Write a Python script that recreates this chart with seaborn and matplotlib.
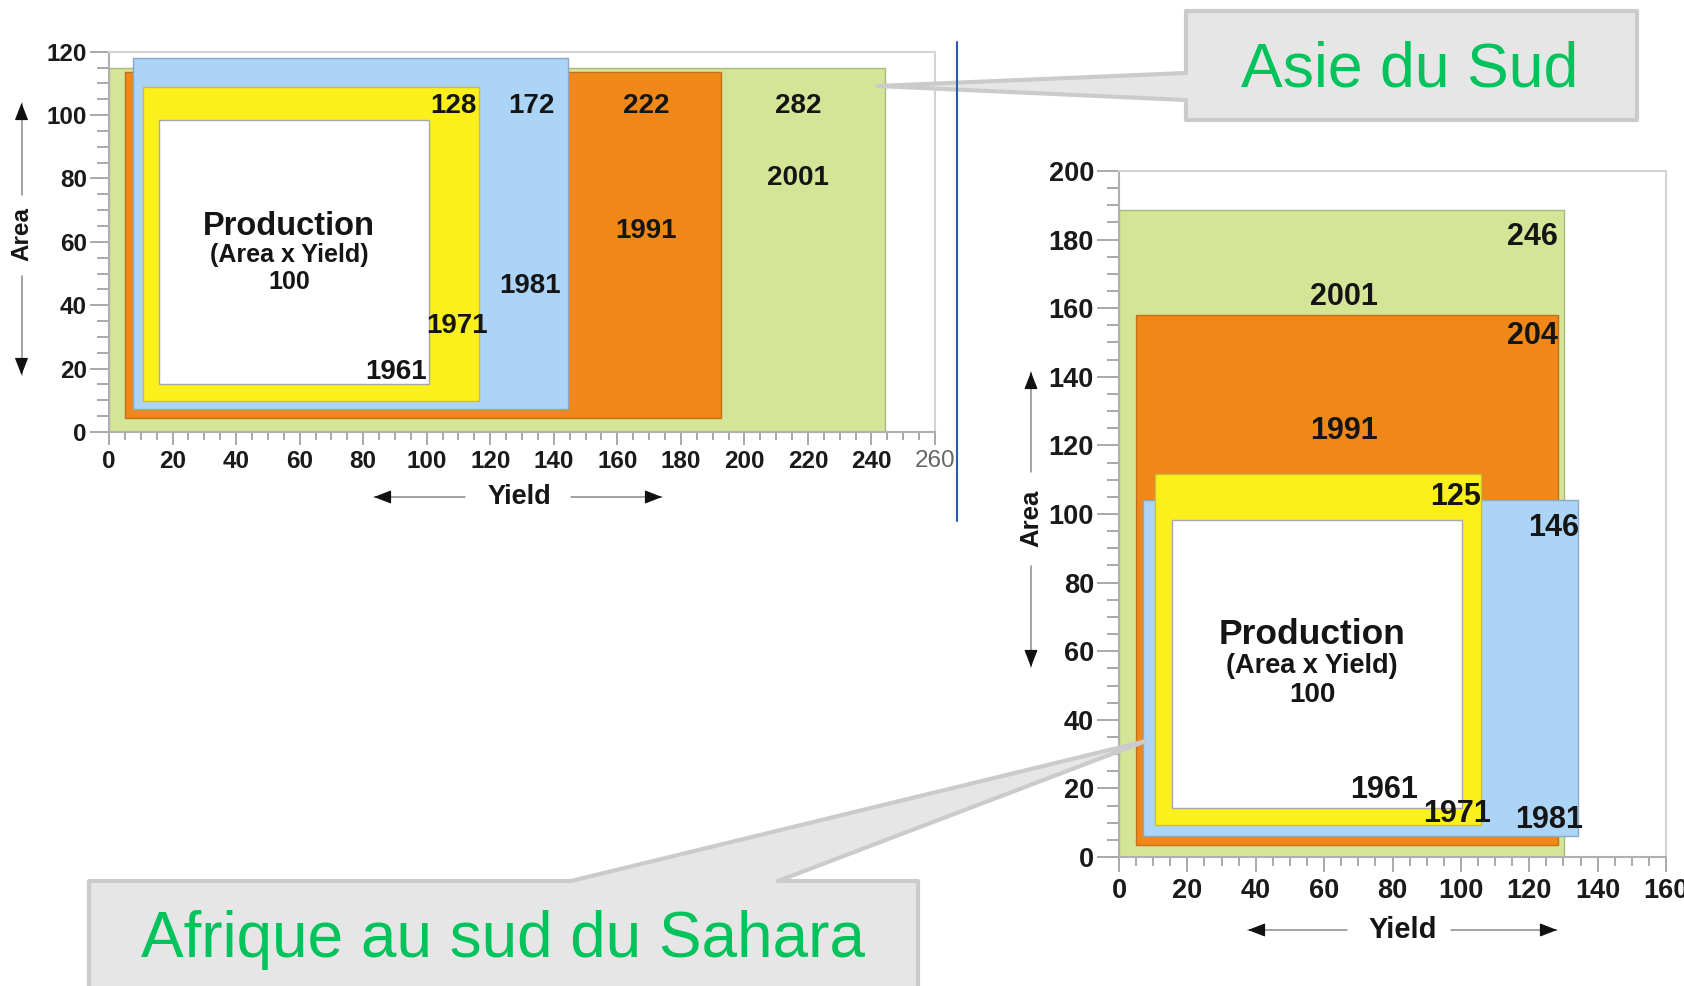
import matplotlib
matplotlib.use('Agg')
import matplotlib.pyplot as plt
import seaborn as sns
from matplotlib.patches import Polygon
from matplotlib.ticker import MultipleLocator

# Year rectangles, innermost (1961) to outermost (2001)
years = ['1961', '1971', '1981', '1991', '2001']
fill_colors = ['#ffffff', '#fbf01c', '#acd4f6', '#ef8818', '#d5e597']
edge_colors = ['#a8a8a8', '#c8bf3c', '#8aa8c8', '#c2701c', '#aab880']

# South Asia: yield (x) and area (y) extents of each rectangle
asia_yield_lo = [15.7, 10.7, 7.5, 5.0, 0.0]
asia_yield_hi = [100.6, 116.5, 144.5, 192.6, 244.2]
asia_area_lo = [15.0, 9.7, 7.1, 4.5, 0.0]
asia_area_hi = [98.3, 108.8, 117.9, 113.7, 115.0]
asia_index = ['100', '128', '172', '222', '282']

# Sub-Saharan Africa
africa_yield_lo = [15.6, 10.4, 7.1, 5.1, 0.0]
africa_yield_hi = [100.3, 106.0, 134.3, 128.3, 130.2]
africa_area_lo = [14.3, 9.2, 6.1, 3.6, 0.0]
africa_area_hi = [98.3, 111.7, 104.2, 157.9, 188.5]
africa_index = ['100', '125', '146', '204', '246']

# label placement (data coords)
asia_year_pos = [(90.4, 18.9), (109.6, 33.5), (132.6, 46), (169, 63.4), (217, 80.2)]
asia_index_pos = [None, (108.4, 103), (133, 103), (169, 103), (217, 103)]
africa_year_pos = [(77.4, 19.4), (99, 12.6), (125.7, 10.7), (65.7, 124.3), (65.7, 163.2)]
africa_index_pos = [None, (98.4, 104.9), (127, 96), (120.9, 152), (120.9, 180.7)]

sns.set_theme(style='ticks')
plt.rcParams['font.family'] = ['Liberation Sans', 'DejaVu Sans']

W, H = 1684, 986
fig = plt.figure(figsize=(W / 100, H / 100), dpi=100)
ax1 = fig.add_axes([109 / W, 1 - 432 / H, 826 / W, 380.3 / H])
ax2 = fig.add_axes([1119 / W, 1 - 857 / H, 547 / W, 686 / H])


def draw_panel(ax, x_lo, x_hi, y_lo, y_hi, index, year_pos, index_pos, xmax, ymax,
               tick_fs, lab_fs, prod_fs, ylen, xlen):
    for i in reversed(range(len(years))):
        ax.bar(x_lo[i], y_hi[i] - y_lo[i], width=x_hi[i] - x_lo[i], bottom=y_lo[i],
               align='edge', color=fill_colors[i], edgecolor=edge_colors[i], linewidth=1)
    for i, (x, y) in enumerate(year_pos):
        ax.text(x, y, years[i], ha='center', va='center', fontsize=lab_fs,
                fontweight='bold', color='#151515')
    for i, p in enumerate(index_pos):
        if p is not None:
            ax.text(p[0], p[1], index[i], ha='center', va='center', fontsize=lab_fs,
                    fontweight='bold', color='#151515')
    cx = (x_lo[0] + x_hi[0]) / 2 - 1.5
    ax.text(cx, 65, 'Production', ha='center', va='center', fontsize=prod_fs[0],
            fontweight='bold', color='#151515')
    ax.text(cx, 55.8, '(Area x Yield)', ha='center', va='center', fontsize=prod_fs[1],
            fontweight='bold', color='#151515')
    ax.text(cx, 47.2, index[0], ha='center', va='center', fontsize=prod_fs[2],
            fontweight='bold', color='#151515')

    ax.set_xlim(0, xmax)
    ax.set_ylim(0, ymax)
    xt = list(range(0, xmax + 1, 20))
    yt = list(range(0, ymax + 1, 20))
    ax.set_xticks(xt, labels=[str(t) for t in xt], fontsize=tick_fs, fontweight='bold',
                  color='#1a1a1a')
    ax.set_yticks(yt, labels=[str(t) for t in yt], fontsize=tick_fs, fontweight='bold',
                  color='#1a1a1a')
    ax.xaxis.set_minor_locator(MultipleLocator(5))
    ax.yaxis.set_minor_locator(MultipleLocator(5))
    ax.tick_params(axis='y', which='major', direction='out', length=ylen[0], width=1.2,
                   color='#9a9a9a', pad=2)
    ax.tick_params(axis='y', which='minor', direction='out', length=ylen[1], width=1.2,
                   color='#9a9a9a')
    ax.tick_params(axis='x', which='major', direction='out', length=xlen[0], width=1.2,
                   color='#9a9a9a', pad=4)
    ax.tick_params(axis='x', which='minor', direction='out', length=xlen[1], width=1.2,
                   color='#9a9a9a')
    for side in ['left', 'bottom']:
        ax.spines[side].set_color('#b0b0b0')
        ax.spines[side].set_linewidth(1.5)
    for side in ['top', 'right']:
        ax.spines[side].set_color('#d4d4d4')
        ax.spines[side].set_linewidth(1.5)
    ax.set_facecolor('white')


draw_panel(ax1, asia_yield_lo, asia_yield_hi, asia_area_lo, asia_area_hi, asia_index,
           asia_year_pos, asia_index_pos, 260, 120, 17.5, 20, (23.5, 18, 18),
           (14, 9), (9, 6))
draw_panel(ax2, africa_yield_lo, africa_yield_hi, africa_area_lo, africa_area_hi,
           africa_index, africa_year_pos, africa_index_pos, 160, 200, 19.5, 22,
           (25.5, 19.5, 20), (16, 9), (11, 6.5))

last = ax1.get_xticklabels()[-1]
last.set_fontweight('normal')
last.set_color('#666666')

# overlay in pixel coordinates for axis captions and callouts
ov = fig.add_axes([0, 0, 1, 1])
ov.set_xlim(0, W)
ov.set_ylim(H, 0)
ov.axis('off')


def arrow(x0, y0, x1, y1):
    ov.plot([x0, x1], [y0, y1], color='#8a8a8a', lw=1.1)
    ov.annotate('', xy=(x1, y1), xytext=(x0 + (x1 - x0) * 0.85, y0 + (y1 - y0) * 0.85),
                arrowprops=dict(arrowstyle='-|>,head_length=0.9,head_width=0.35',
                                color='#111111', lw=0.8, shrinkA=0, shrinkB=0))


ov.text(21.5, 234, 'Area', rotation=90, ha='center', va='center', fontsize=17.5,
        fontweight='bold', color='#151515')
arrow(21.5, 195, 21.5, 103)
arrow(21.5, 276, 21.5, 375)
ov.text(519, 497, 'Yield', ha='center', va='center', fontsize=19.5, fontweight='bold',
        color='#151515')
arrow(465, 497, 374, 497)
arrow(571, 497, 662, 497)

ov.text(1031, 518, 'Area', rotation=90, ha='center', va='center', fontsize=18.5,
        fontweight='bold', color='#151515')
arrow(1031, 472, 1031, 372)
arrow(1031, 566, 1031, 667)
ov.text(1403, 930, 'Yield', ha='center', va='center', fontsize=21, fontweight='bold',
        color='#151515')
arrow(1347, 930, 1248, 930)
arrow(1451, 930, 1557, 930)

# callouts
asia_shape = [(1186, 11), (1637, 11), (1637, 120), (1186, 120), (1186, 100),
              (878, 86), (1186, 73)]
ov.add_patch(Polygon(asia_shape, closed=True, facecolor='#e6e6e6', edgecolor='#cbcbcb',
                     linewidth=3, joinstyle='round', zorder=3))
ov.text(1410, 70, 'Asie du Sud', ha='center', va='center', fontsize=45,
        color='#00c35c', zorder=4)

africa_shape = [(89, 881), (571, 881), (1146, 741), (778, 881), (918, 881),
                (918, 1000), (89, 1000)]
ov.add_patch(Polygon(africa_shape, closed=True, facecolor='#e6e6e6', edgecolor='#cbcbcb',
                     linewidth=3, joinstyle='round', zorder=3))
ov.text(503, 940, 'Afrique au sud du Sahara', ha='center', va='center', fontsize=46,
        color='#00c35c', zorder=4)

ov.plot([956.7, 956.7], [42, 521], color='#2a5aa8', lw=1.5, zorder=5)

fig.savefig('out.png', dpi=100, facecolor='white')
